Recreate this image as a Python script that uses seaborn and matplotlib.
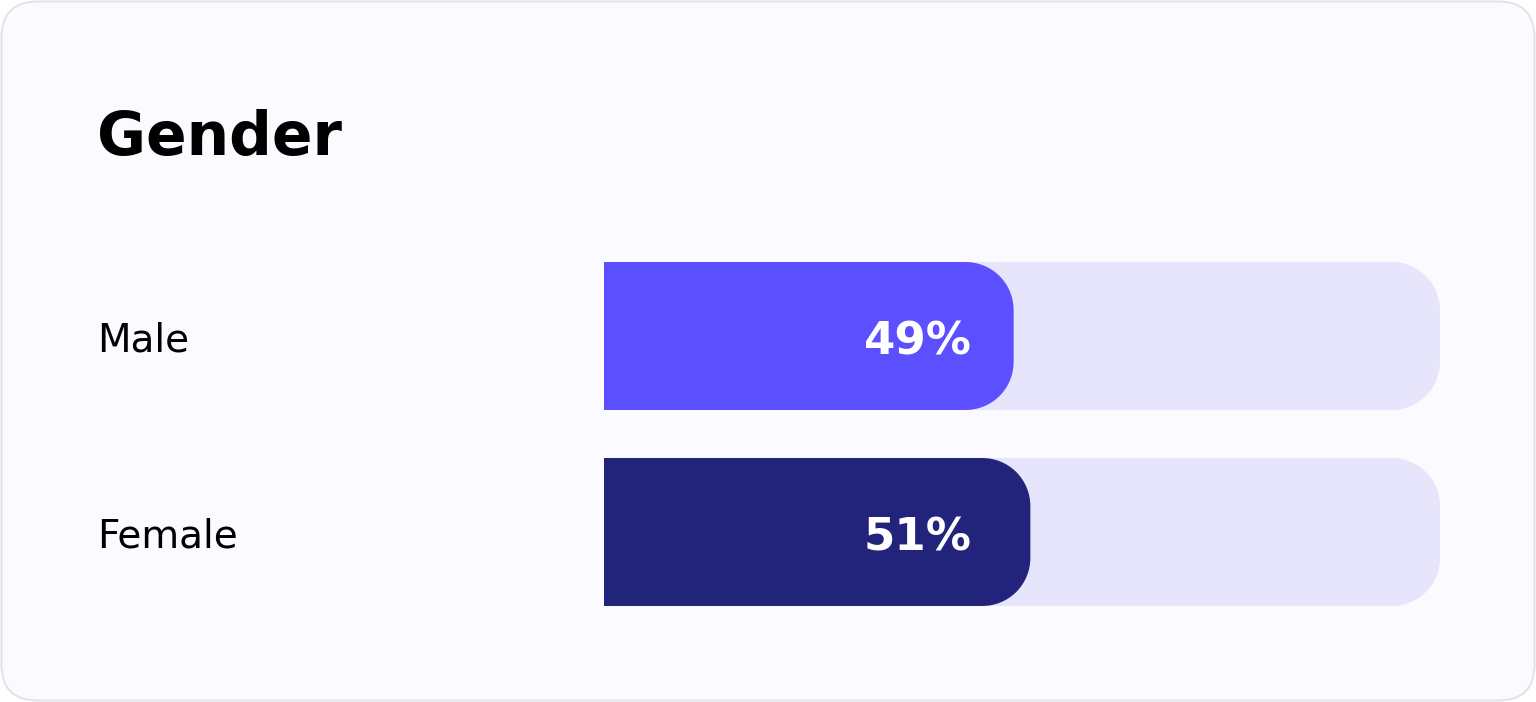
import numpy as np
import pandas as pd
import matplotlib.pyplot as plt
import seaborn as sns
from matplotlib.patches import FancyBboxPatch, PathPatch
from matplotlib.path import Path
from matplotlib.transforms import IdentityTransform, blended_transform_factory, Affine2D

# data
genders = ['Male', 'Female']
shares = [49, 51]
track_max = [100, 100]

bar_colors = ['#5B4FFF', '#22237B']
track_color = '#E7E5FC'
card_bg = '#FAFAFF'
card_edge = '#E3E3EA'

sns.set_theme(style='white')
plt.rcParams['font.family'] = ['DejaVu Sans']

W, H = 1536, 702
fig = plt.figure(figsize=(W / 100, H / 100), dpi=100, facecolor='white')

# card background
card = FancyBboxPatch((1.5, 1.5), W - 3, H - 3,
                      boxstyle='round,pad=0,rounding_size=36',
                      transform=IdentityTransform(),
                      facecolor=card_bg, edgecolor=card_edge, linewidth=1.5,
                      zorder=-5)
fig.add_artist(card)


def right_rounded(left, bot, right, top, r):
    # rectangle with circular corners on the right side only
    a1 = Path.arc(-90, 0).transformed(Affine2D().scale(r).translate(right - r, bot + r))
    a2 = Path.arc(0, 90).transformed(Affine2D().scale(r).translate(right - r, top - r))
    verts = [(left, bot)] + list(a1.vertices) + list(a2.vertices) + [(left, top), (left, bot)]
    codes = ([Path.MOVETO] + [Path.LINETO] + list(a1.codes[1:]) + [Path.LINETO]
             + list(a2.codes[1:]) + [Path.LINETO, Path.CLOSEPOLY])
    return Path(verts, codes)


# axes covering the bar track area
ax = fig.add_axes([604 / W, (H - 630) / H, 836 / W, 392 / H])
ax.set_facecolor('none')

df = pd.DataFrame({'gender': genders, 'share': shares, 'track': track_max})
sns.barplot(data=df, x='track', y='gender', orient='h', color=track_color,
            width=0.755, ax=ax, saturation=1)
sns.barplot(data=df, x='share', y='gender', hue='gender', orient='h',
            palette=bar_colors, width=0.755, legend=False, ax=ax, saturation=1)
ax.set_xlim(0, 100)
ax.set_ylim(1.5, -0.5)
ax.axis('off')

# swap plain bars for bars rounded on the right end only
r = 48
for z, p in enumerate(list(ax.patches)):
    x0, y0 = p.get_x(), p.get_y()
    x1, y1 = x0 + p.get_width(), y0 + p.get_height()
    (px0, py0), (px1, py1) = ax.transData.transform([(x0, y0), (x1, y1)])
    left, right = min(px0, px1), max(px0, px1)
    bot, top = min(py0, py1), max(py0, py1)
    fc = p.get_facecolor()
    p.set_visible(False)
    shape = PathPatch(right_rounded(left, bot, right, top, r),
                      transform=IdentityTransform(), facecolor=fc,
                      edgecolor='none', zorder=2 + z, clip_on=False)
    ax.add_artist(shape)

# value labels
for i, v in enumerate(shares):
    ax.text(31.1, i + 0.095, f'{v}%', ha='left', va='baseline', color='white',
            fontsize=32.5, fontweight='bold', zorder=20, clip_on=False)

# category labels
lab_tr = blended_transform_factory(fig.transFigure, ax.transData)
for i, g in enumerate(genders):
    ax.text(97 / W, i + 0.08, g, transform=lab_tr, ha='left', va='baseline',
            fontsize=28, color='black', clip_on=False)

fig.text(97 / W, 1 - 155 / H, 'Gender', ha='left', va='baseline',
         fontsize=43, fontweight='bold', color='black')

fig.savefig('out.png', dpi=100, facecolor='white')
